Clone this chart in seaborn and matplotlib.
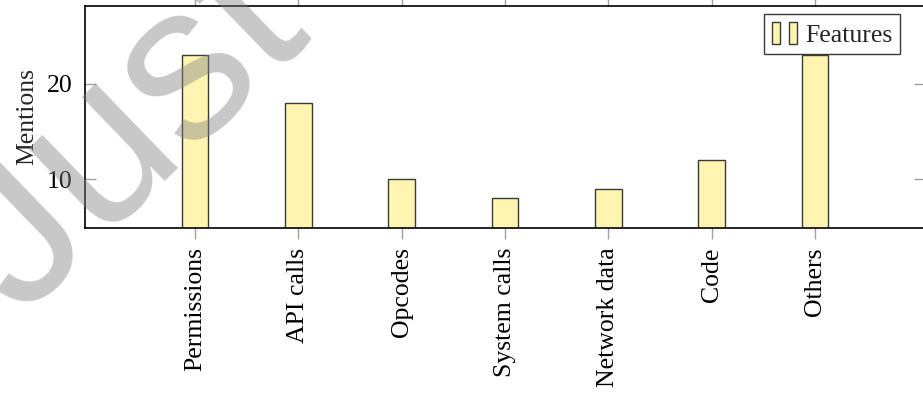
import matplotlib
matplotlib.use("Agg")
import matplotlib.pyplot as plt
import seaborn as sns
import pandas as pd
from matplotlib.patches import Rectangle
from matplotlib.legend_handler import HandlerTuple

categories = ["Permissions", "API calls", "Opcodes", "System calls", "Network data", "Code", "Others"]
mentions = [23, 18, 10, 8, 9, 12, 23]
series_name = "Features"
y_ticks = [10, 20]

sns.set_theme(style="white")
plt.rcParams["font.family"] = ["Liberation Serif", "DejaVu Serif"]

FILL = "#FFF5B1"
EDGE = "#3a3a3a"
TICKC = "#a0a0a0"
FS = 18.5

df = pd.DataFrame({"cat": categories, "val": mentions})

fig = plt.figure(figsize=(9.23, 4.0), dpi=100)
ax = fig.add_axes([85 / 923, 1 - 228 / 400, 840 / 923, 222 / 400])

sns.barplot(data=df, x="cat", y="val", order=categories, color=FILL,
            edgecolor=EDGE, linewidth=1.0, width=0.26, saturation=1, ax=ax)
for p in ax.patches:
    p.set_facecolor(FILL)

ax.set_xlim(-1.065, 7.065)
ax.set_ylim(4.85, 28.2)
ax.set_yticks(y_ticks)
ax.set_yticklabels([str(v) for v in y_ticks], fontsize=FS)
ax.set_xticks(range(len(categories)))
ax.set_xticklabels(categories, rotation=90, fontsize=FS, va="top", ha="center")
ax.set_xlabel("")
ax.set_ylabel("Mentions", fontsize=FS, labelpad=6)

for s in ax.spines.values():
    s.set_color("black")
    s.set_linewidth(1.2)

ax.tick_params(axis="x", which="both", direction="out", length=8, width=1,
               color=TICKC, top=True, bottom=True, pad=6, labelcolor="black")
ax.tick_params(axis="y", which="both", direction="in", length=8, width=1,
               color=TICKC, left=True, right=True, pad=9, labelcolor="black")

h1 = Rectangle((0, 0), 1, 1, facecolor=FILL, edgecolor=EDGE, linewidth=1.0)
h2 = Rectangle((0, 0), 1, 1, facecolor=FILL, edgecolor=EDGE, linewidth=1.0)
leg = ax.legend([(h1, h2)], [series_name],
                handler_map={tuple: HandlerTuple(ndivide=None, pad=0.35)},
                loc="upper right", bbox_to_anchor=(900 / 923, 1 - 14 / 400),
                bbox_transform=fig.transFigure, borderaxespad=0, fontsize=FS,
                handlelength=1.0, handleheight=0.95, handletextpad=0.3,
                borderpad=0.3, fancybox=False, framealpha=1, edgecolor=EDGE)
leg.get_frame().set_linewidth(1.0)

fig.text(20 / 923, 1 - 318 / 400, "Just", rotation=44, rotation_mode="anchor",
         ha="left", va="baseline", fontsize=160, family="Liberation Sans",
         color="#808080", alpha=0.43, zorder=100)

fig.savefig("out.png", dpi=100)
